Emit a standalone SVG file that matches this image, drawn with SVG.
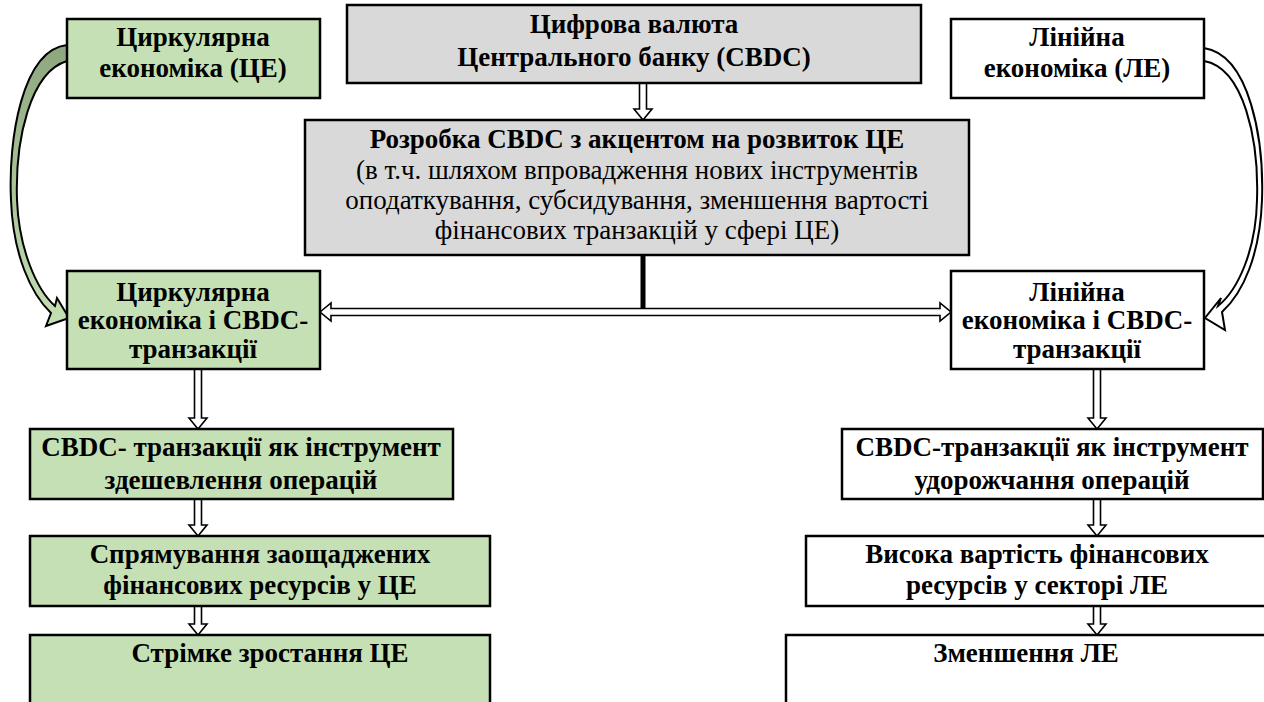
<svg xmlns="http://www.w3.org/2000/svg" width="1264" height="702" viewBox="0 0 1264 702">
<defs>
<style>
.box{stroke:#000;stroke-width:2.5}
.g{fill:#c5e0b4}
.gr{fill:#d9d9d9}
.w{fill:#fff}
.t{font-family:'Liberation Serif','Times New Roman',Tinos,serif;font-size:27px;fill:#000;text-anchor:middle}
.b{font-weight:bold}
.arr{fill:#fff;stroke:#000;stroke-width:1.6;stroke-linejoin:miter}
</style>
<linearGradient id="gg" x1="0" y1="0" x2="0" y2="1">
<stop offset="0" stop-color="#8ea67e"/>
<stop offset="1" stop-color="#c5e0b4"/>
</linearGradient>
</defs>
<rect width="1264" height="702" fill="#fff"/>

<g id="connectors">
<path class="arr" d="M639.5,83 V109 H634 L643,120 L652,109 H646.5 V83 Z"/>
<rect x="640.5" y="255" width="5" height="55" fill="#000"/>
<path class="arr" d="M320,312 L331,303 V308.5 H940 V303 L951,312 L940,321 V315.5 H331 V321 Z"/>
<path class="arr" d="M194.5,369 V418 H189 L198,429 L207,418 H201.5 V369 Z"/>
<path class="arr" d="M194.5,499 V525 H189 L198,536 L207,525 H201.5 V499 Z"/>
<path class="arr" d="M194.5,606 V624 H189 L198,635 L207,624 H201.5 V606 Z"/>
<path class="arr" d="M1093.5,369 V418 H1088 L1097,429 L1106,418 H1100.5 V369 Z"/>
<path class="arr" d="M1093.5,499 V525 H1088 L1097,536 L1106,525 H1100.5 V499 Z"/>
<path class="arr" d="M1093.5,606 V624 H1088 L1097,635 L1106,624 H1100.5 V606 Z"/>
<path d="M67,45 C22,50 8,140 11,200 C13,255 31,294 51,313 L46,326 L69,318 L57,298 L55,306 C37,290 19,250 17,200 C15,140 30,72 67,61 Z" fill="url(#gg)" stroke="#000" stroke-width="2"/>
<path d="M1204,48 C1250,55 1264,140 1262,200 C1260,255 1243,293 1222,312 L1225,330 L1205,318 L1221,298 L1218,306 C1238,290 1256,250 1257,200 C1259,140 1244,68 1204,61 Z" fill="#fff" stroke="#000" stroke-width="2"/>
</g>

<g id="n_ce">
<rect class="box g" x="67" y="19" width="253" height="79"/>
<text class="t b" x="193" y="46">Циркулярна</text>
<text class="t b" x="193" y="77">економіка (ЦЕ)</text>
</g>
<g id="n_cbdc">
<rect class="box gr" x="347" y="5" width="574" height="78"/>
<text class="t b" x="634" y="33">Цифрова валюта</text>
<text class="t b" x="634" y="66">Центрального банку (CBDC)</text>
</g>
<g id="n_le">
<rect class="box w" x="951" y="19" width="253" height="79"/>
<text class="t b" x="1077" y="46">Лінійна</text>
<text class="t b" x="1077" y="77">економіка (ЛЕ)</text>
</g>
<g id="n_dev">
<rect class="box gr" x="305" y="120" width="664" height="135"/>
<text class="t b" x="637" y="148">Розробка CBDC з акцентом на розвиток ЦЕ</text>
<text class="t" x="637" y="179">(в т.ч. шляхом впровадження нових інструментів</text>
<text class="t" x="637" y="209">оподаткування, субсидування, зменшення вартості</text>
<text class="t" x="637" y="239">фінансових транзакцій у сфері ЦЕ)</text>
</g>
<g id="n_ce2">
<rect class="box g" x="67" y="271" width="253" height="98"/>
<text class="t b" x="193" y="301">Циркулярна</text>
<text class="t b" x="193" y="329">економіка і CBDC-</text>
<text class="t b" x="193" y="358">транзакції</text>
</g>
<g id="n_le2">
<rect class="box w" x="951" y="271" width="253" height="98"/>
<text class="t b" x="1077" y="301">Лінійна</text>
<text class="t b" x="1077" y="329">економіка і CBDC-</text>
<text class="t b" x="1077" y="358">транзакції</text>
</g>
<g id="n_ce3">
<rect class="box g" x="30" y="429" width="423" height="70"/>
<text class="t b" x="241" y="456">CBDC- транзакції як інструмент</text>
<text class="t b" x="241" y="489">здешевлення операцій</text>
</g>
<g id="n_le3">
<rect class="box w" x="842" y="429" width="421" height="70"/>
<text class="t b" x="1052" y="456">CBDC-транзакції як інструмент</text>
<text class="t b" x="1052" y="489">удорожчання операцій</text>
</g>
<g id="n_ce4">
<rect class="box g" x="30" y="536" width="460" height="70"/>
<text class="t b" x="260" y="563">Спрямування заощаджених</text>
<text class="t b" x="260" y="594">фінансових ресурсів у ЦЕ</text>
</g>
<g id="n_le4">
<rect class="box w" x="806" y="536" width="470" height="70"/>
<text class="t b" x="1037" y="563">Висока вартість фінансових</text>
<text class="t b" x="1037" y="594">ресурсів у секторі ЛЕ</text>
</g>
<g id="n_ce5">
<rect class="box g" x="30" y="635" width="460" height="80"/>
<text class="t b" x="270" y="662">Стрімке зростання ЦЕ</text>
</g>
<g id="n_le5">
<rect class="box w" x="786" y="635" width="490" height="80"/>
<text class="t b" x="1026" y="662">Зменшення ЛЕ</text>
</g>
</svg>
